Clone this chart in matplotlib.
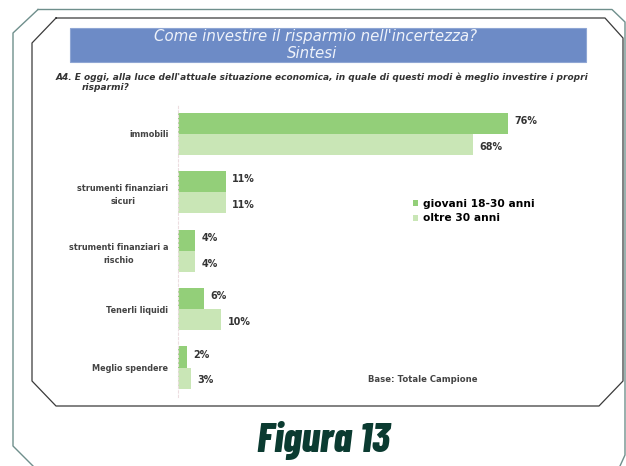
import matplotlib
matplotlib.use("Agg")
import matplotlib.pyplot as plt
from matplotlib.patches import Rectangle
from matplotlib import font_manager as fm
import numpy as np

# data
categories = ["immobili", "strumenti finanziari\nsicuri", "strumenti finanziari a\nrischio",
              "Tenerli liquidi", "Meglio spendere"]
giovani = [76, 11, 4, 6, 2]
oltre = [68, 11, 4, 10, 3]
series_names = ["giovani 18-30 anni", "oltre 30 anni"]

W, H = 626, 466
c_dark = "#93cf79"
c_light = "#c9e6b6"

# condensed bold italic for the caption
cands = [f for f in fm.fontManager.ttflist
         if f.name == "Barlow Condensed" and f.style == "italic"]
if cands:
    best = min(cands, key=lambda f: abs(int(f.weight) - 800))
    fig_font = fm.FontProperties(fname=best.fname, size=30)
else:
    fig_font = fm.FontProperties(family="DejaVu Sans", style="italic", weight="bold", size=24)

fig = plt.figure(figsize=(W / 100, H / 100), dpi=100)

# overlay in pixel coordinates for frames and text
bg = fig.add_axes([0, 0, 1, 1])
bg.set_xlim(0, W)
bg.set_ylim(H, 0)
bg.axis("off")

# outer frame (chamfered)
outer = [(38, 9.5), (612, 9.5), (625, 22), (625, 455), (620, 466)]
bg.plot([p[0] for p in outer], [p[1] for p in outer], color="#6f8f8c", lw=1.0)
outer_l = [(38, 9.5), (13, 33), (13, 446), (33, 466)]
bg.plot([p[0] for p in outer_l], [p[1] for p in outer_l], color="#6f8f8c", lw=1.0)

# inner frame
inner = [(56, 18), (605, 18), (623, 38), (623, 381), (599, 406), (56, 406),
         (32, 381), (32, 43), (56, 18)]
bg.plot([p[0] for p in inner], [p[1] for p in inner], color="#3a3a3a", lw=0.9)

# title bar
bg.add_patch(Rectangle((70, 28), 516, 34, facecolor="#6d8bc6", edgecolor="#8fa6d4", lw=0.8))
bg.text(316, 36, "Come investire il risparmio nell'incertezza?", color="#eef2fa",
        fontsize=10.8, style="italic", ha="center", va="center")
bg.text(312, 53, "Sintesi", color="#eef2fa", fontsize=10.8, style="italic",
        ha="center", va="center")

# question
bg.text(56, 77.5, "A4. E oggi, alla luce dell'attuale situazione economica, in quale di questi modi "
        "è meglio investire i propri", fontsize=6.5, fontweight="bold", style="italic",
        color="#333333", ha="left", va="center")
bg.text(82, 88, "risparmi?", fontsize=6.5, fontweight="bold", style="italic",
        color="#333333", ha="left", va="center")

bg.text(368, 380, "Base: Totale Campione", fontsize=6.1, fontweight="bold",
        color="#444444", ha="left", va="center")

bg.text(323, 440, "Figura 13", fontproperties=fig_font, color="#0b3b31",
        ha="center", va="center")

# bar chart
ax = fig.add_axes([178 / W, 1 - 396.7 / H, 434 / W, 292 / H])
y = np.arange(len(categories))
h = 0.36
b1 = ax.barh(y - h / 2, giovani, height=h, color=c_dark, label=series_names[0])
b2 = ax.barh(y + h / 2, oltre, height=h, color=c_light, label=series_names[1])
for yy, v in zip(y, giovani):
    ax.text(v + 1.5, yy - h / 2 - 0.04, f"{v}%", fontsize=6.9, fontweight="bold",
            color="#333333", va="center", ha="left")
for yy, v in zip(y, oltre):
    ax.text(v + 1.5, yy + h / 2 + 0.04, f"{v}%", fontsize=6.9, fontweight="bold",
            color="#333333", va="center", ha="left")
ax.set_xlim(0, 100)
ax.set_ylim(len(categories) - 0.5, -0.5)
ax.set_xticks([])
ax.set_yticks(y)
ax.set_yticklabels(categories, fontsize=5.9, fontweight="bold", color="#444444",
                   multialignment="center", linespacing=1.6)
ax.tick_params(axis="y", length=0, pad=7)
for s in ["top", "right", "bottom"]:
    ax.spines[s].set_visible(False)
ax.spines["left"].set_color("#ecdde0")
ax.spines["left"].set_linewidth(0.8)
ax.spines["left"].set_linestyle((0, (2, 2)))
ax.patch.set_alpha(0)

fig.legend(handles=[b1, b2], labels=series_names, loc="center left",
           bbox_to_anchor=(403 / W, 1 - 211 / H), frameon=False,
           handlelength=0.5, handleheight=0.5, handletextpad=0.5, labelspacing=0.45,
           prop={"weight": "bold", "size": 7.7})

fig.savefig("out.png", dpi=100)
